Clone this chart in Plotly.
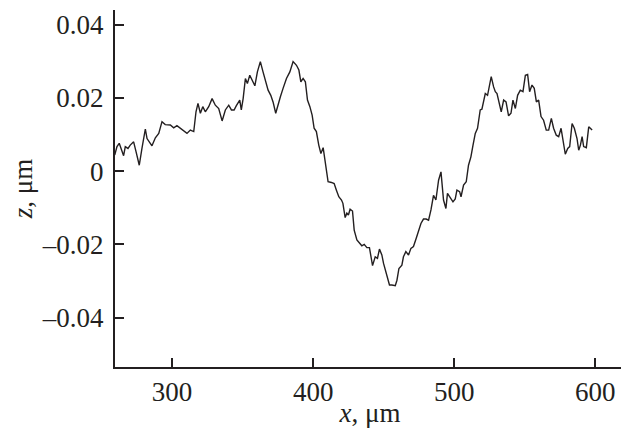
import plotly.graph_objects as go

# Surface profile: x position (µm) and height z (µm)
x_um = [259.4, 261.0, 262.6, 264.0, 265.7, 266.9, 268.8, 270.4, 272.8, 274.5,
        276.8, 278.7, 281.1, 282.3, 283.9, 285.8, 288.2, 290.6, 292.9, 295.2,
        298.8, 301.2, 303.5, 305.9, 308.3, 310.6, 313.0, 315.4, 317.0, 318.4,
        320.1, 321.8, 323.6, 326.0, 328.4, 330.7, 333.1, 335.5, 337.8, 340.2,
        342.1, 344.0, 345.6, 348.0, 349.1, 350.4, 352.0, 353.4, 355.1, 356.7,
        358.7, 360.5, 362.6, 364.5, 366.2, 368.1, 370.0, 371.6, 373.5, 375.2,
        376.8, 378.7, 381.1, 383.5, 385.8, 388.2, 389.9, 391.3, 392.9, 394.5,
        396.0, 397.7, 399.3, 400.7, 402.3, 404.0, 405.5, 407.1, 408.7, 410.6,
        413.0, 414.9, 416.5, 418.2, 420.1, 421.1, 422.7, 423.9, 425.0, 426.2,
        427.9, 429.1, 431.0, 432.8, 434.5, 436.2, 438.1, 439.9, 442.1, 444.0,
        445.6, 447.0, 448.7, 449.9, 451.6, 452.7, 454.1, 455.8, 458.2, 459.4,
        460.8, 462.9, 464.0, 465.7, 467.6, 469.3, 471.1, 473.0, 474.7, 476.4,
        478.2, 480.1, 481.8, 483.5, 485.3, 487.0, 488.9, 490.6, 492.4, 494.1,
        495.2, 497.2, 499.1, 500.7, 501.9, 503.8, 504.8, 506.6, 508.5, 510.1,
        511.8, 513.3, 514.9, 516.5, 518.4, 519.6, 520.8, 522.0, 523.6, 525.0,
        526.2, 527.9, 529.1, 530.3, 531.9, 533.3, 535.0, 536.7, 538.5, 540.2,
        541.6, 543.3, 544.9, 546.8, 548.7, 550.4, 552.0, 553.4, 555.1, 556.7,
        558.2, 559.8, 561.5, 563.3, 565.2, 566.9, 568.8, 570.4, 572.3, 574.0,
        575.7, 577.5, 578.7, 580.4, 581.8, 583.5, 585.1, 587.0, 588.2, 589.4,
        590.6, 591.7, 593.6, 595.3, 597.7]

z_um = [0.0044, 0.0067, 0.0076, 0.0062, 0.0042, 0.0067, 0.0062, 0.0071, 0.0080, 0.0053,
        0.0016, 0.0062, 0.0115, 0.0089, 0.0080, 0.0069, 0.0091, 0.0103, 0.0135, 0.0127,
        0.0126, 0.0118, 0.0124, 0.0117, 0.0112, 0.0103, 0.0112, 0.0108, 0.0162, 0.0185,
        0.0158, 0.0176, 0.0162, 0.0176, 0.0198, 0.0180, 0.0171, 0.0137, 0.0167, 0.0180,
        0.0167, 0.0167, 0.0179, 0.0194, 0.0167, 0.0198, 0.0253, 0.0239, 0.0262, 0.0248,
        0.0233, 0.0271, 0.0299, 0.0271, 0.0244, 0.0221, 0.0207, 0.0189, 0.0158, 0.0185,
        0.0203, 0.0226, 0.0253, 0.0271, 0.0299, 0.0289, 0.0276, 0.0244, 0.0253, 0.0244,
        0.0194, 0.0176, 0.0153, 0.0117, 0.0108, 0.0071, 0.0048, 0.0064, 0.0016, -0.0029,
        -0.0031, -0.0034, -0.0052, -0.0070, -0.0079, -0.0088, -0.0127, -0.0115, -0.0120, -0.0104,
        -0.0109, -0.0161, -0.0188, -0.0197, -0.0204, -0.0200, -0.0209, -0.0209, -0.0258, -0.0234,
        -0.0238, -0.0213, -0.0229, -0.0252, -0.0279, -0.0288, -0.0311, -0.0311, -0.0313, -0.0298,
        -0.0266, -0.0257, -0.0234, -0.0220, -0.0229, -0.0211, -0.0206, -0.0184, -0.0164, -0.0143,
        -0.0131, -0.0131, -0.0134, -0.0106, -0.0066, -0.0079, -0.0025, -0.0002, -0.0079, -0.0102,
        -0.0061, -0.0073, -0.0084, -0.0076, -0.0052, -0.0056, -0.0070, -0.0038, -0.0029, 0.0016,
        0.0039, 0.0071, 0.0103, 0.0117, 0.0167, 0.0169, 0.0191, 0.0212, 0.0207, 0.0230,
        0.0258, 0.0230, 0.0217, 0.0212, 0.0189, 0.0162, 0.0194, 0.0189, 0.0151, 0.0158,
        0.0194, 0.0171, 0.0207, 0.0221, 0.0217, 0.0262, 0.0264, 0.0217, 0.0235, 0.0226,
        0.0189, 0.0194, 0.0149, 0.0139, 0.0112, 0.0112, 0.0144, 0.0117, 0.0098, 0.0094,
        0.0117, 0.0071, 0.0046, 0.0062, 0.0067, 0.0130, 0.0117, 0.0089, 0.0057, 0.0071,
        0.0094, 0.0067, 0.0064, 0.0121, 0.0112]

x_ticks = [300, 400, 500, 600]
x_tick_labels = ["300", "400", "500", "600"]
y_ticks = [-0.04, -0.02, 0, 0.02, 0.04]
y_tick_labels = ["\u20130.04", "\u20130.02", "0", "0.02", "0.04"]

ink = "#231f20"
font_family = "Liberation Serif"

fig = go.Figure()
fig.add_trace(go.Scatter(
    x=x_um, y=z_um, mode="lines",
    line=dict(color=ink, width=1.4),
    showlegend=False, hoverinfo="skip",
))

# The page body adds an 8 px offset, so the figure is 8 px smaller each way.
fig.update_layout(
    width=621, height=420,
    margin=dict(l=107, r=4, t=2, b=61),
    paper_bgcolor="white", plot_bgcolor="white",
    font=dict(family=font_family, size=27, color=ink),
    xaxis=dict(
        range=[259.6, 621], tickvals=x_ticks, ticktext=x_tick_labels,
        ticks="inside", ticklen=9, tickwidth=1.5, tickcolor=ink,
        showline=True, linecolor=ink, linewidth=2,
        showgrid=False, zeroline=False, automargin=False,
        title=dict(text="<i>x</i>, μm", standoff=2, font=dict(size=27)),
        ticklabelstandoff=0,
    ),
    yaxis=dict(
        range=[-0.0535, 0.044], tickvals=y_ticks, ticktext=y_tick_labels,
        ticks="inside", ticklen=9, tickwidth=1.5, tickcolor=ink,
        showline=True, linecolor=ink, linewidth=2,
        showgrid=False, zeroline=False, automargin=False,
        title=dict(text="<i>z</i>, μm", standoff=6, font=dict(size=27)),
        ticklabelstandoff=4,
    ),
)

fig.write_html("out.html")
